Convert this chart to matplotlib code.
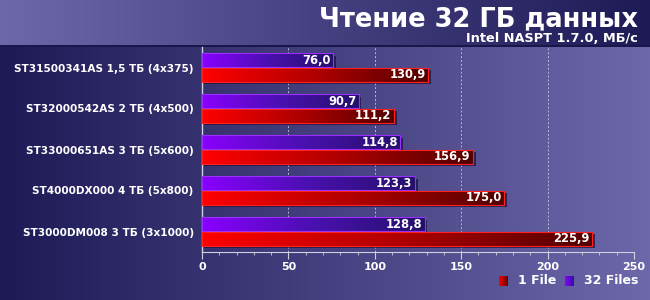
import matplotlib
matplotlib.use("Agg")
import matplotlib.pyplot as plt
import numpy as np
from matplotlib.colors import LinearSegmentedColormap
from matplotlib.patches import Rectangle

drives = ["ST31500341AS 1,5 ТБ (4x375)", "ST32000542AS 2 ТБ (4x500)",
          "ST33000651AS 3 ТБ (5x600)", "ST4000DX000 4 ТБ (5x800)",
          "ST3000DM008 3 ТБ (3x1000)"]
one_file = [130.9, 111.2, 156.9, 175.0, 225.9]
files_32 = [76.0, 90.7, 114.8, 123.3, 128.8]
series_names = ["1 File", "32 Files"]

W, H = 650, 300
fig = plt.figure(figsize=(6.5, 3), dpi=100)

# background gradients
bg = fig.add_axes([0, 0, 1, 1], zorder=0)
bg.axis("off")
img = np.zeros((H, W, 3))
xs = np.linspace(0, 1, W)
dark = np.array([0x1e, 0x1a, 0x56]) / 255
light = np.array([0x6c, 0x68, 0xaa]) / 255
top = light[None, :] * (1 - xs[:, None]) + dark[None, :] * xs[:, None]
body = dark[None, :] * (1 - xs[:, None]) + light[None, :] * xs[:, None]
img[:45] = top[None, :, :]
img[45:] = body[None, :, :]
img[45:47] = np.array([0x1a, 0x16, 0x4c]) / 255
bg.imshow(img, aspect="auto", extent=[0, 1, 0, 1])
bg.set_xlim(0, 1)
bg.set_ylim(0, 1)

fig.text(0.982, 0.935, "Чтение 32 ГБ данных", color="white", fontsize=18.5,
         fontweight="bold", ha="right", va="center")
fig.text(0.982, 0.872, "Intel NASPT 1.7.0, МБ/с", color="white", fontsize=9.3,
         fontweight="bold", ha="right", va="center")

ax = fig.add_axes([202 / W, 1 - 252 / H, 432 / W, 205 / H], zorder=1)
ax.patch.set_alpha(0)

red_cmap = LinearSegmentedColormap.from_list("r", ["#ff0000", "#b00000", "#520000"])
pur_cmap = LinearSegmentedColormap.from_list("p", ["#8a00ff", "#4a10b0", "#24106a"])
grad = np.linspace(0, 1, 256)[None, :]

h = 0.34
dx = 250 / 432 * 2.5
dy = 5 / 205 * 2.5
for i in range(len(drives)):
    for val, off, cm, edge in [(files_32[i], -0.18, pur_cmap, "#9a30ff"),
                               (one_file[i], 0.18, red_cmap, "#ff2020")]:
        y0 = i + off - h / 2
        ax.add_patch(Rectangle((dx, y0 + dy), val, h, color="#14103c",
                               alpha=0.7, zorder=2, lw=0))
        ax.imshow(grad, cmap=cm, aspect="auto", extent=[0, val, y0 + h, y0],
                  zorder=3)
        ax.add_patch(Rectangle((0, y0), val, h, fill=False, ec=edge, lw=0.8,
                               zorder=4))
        ax.text(val - 1.5, i + off, f"{val:.1f}".replace(".", ","),
                color="white", fontsize=8.3, fontweight="bold", ha="right",
                va="center", zorder=5)
ax.set_xlim(0, 250)
ax.set_ylim(4.5, -0.5)

ax.set_yticks(range(len(drives)))
ax.set_yticklabels(drives, color="white", fontsize=7.6, fontweight="bold")
ax.tick_params(axis="y", length=0, pad=6)
ax.set_xticks([0, 50, 100, 150, 200, 250])
ax.set_xticks(np.arange(0, 251, 10), minor=True)
ax.set_xticklabels(["0", "50", "100", "150", "200", "250"], color="white",
                   fontsize=8, fontweight="bold")
ax.tick_params(axis="x", which="major", length=5, color="#d0d0e0", width=0.8,
               direction="out", pad=2)
ax.tick_params(axis="x", which="minor", length=2.5, color="#d0d0e0", width=0.6,
               direction="out")
for s in ["top", "right"]:
    ax.spines[s].set_visible(False)
ax.spines["bottom"].set_color("#d0d0e0")
ax.spines["left"].set_color("#d0d0e0")
ax.spines["left"].set_linewidth(1)
ax.xaxis.grid(True, color="#b8b8d8", ls=(0, (2, 2)), lw=0.7, zorder=1)
ax.set_axisbelow(True)

# legend
legend_items = [(series_names[0], "#ff0000", "#600000", 499),
                (series_names[1], "#8a00ff", "#3010a0", 565)]
for name, c1, c2, px in legend_items:
    lg = fig.add_axes([px / W, 1 - 286 / H, 9 / W, 10 / H], zorder=2)
    lg.imshow(np.linspace(0, 1, 32)[None, :],
              cmap=LinearSegmentedColormap.from_list("l", [c1, c2]),
              aspect="auto")
    lg.axis("off")
    fig.text((px + 19) / W, 1 - 281 / H, name, color="white", fontsize=9,
             fontweight="bold", ha="left", va="center")

fig.savefig("out.png", dpi=100)
